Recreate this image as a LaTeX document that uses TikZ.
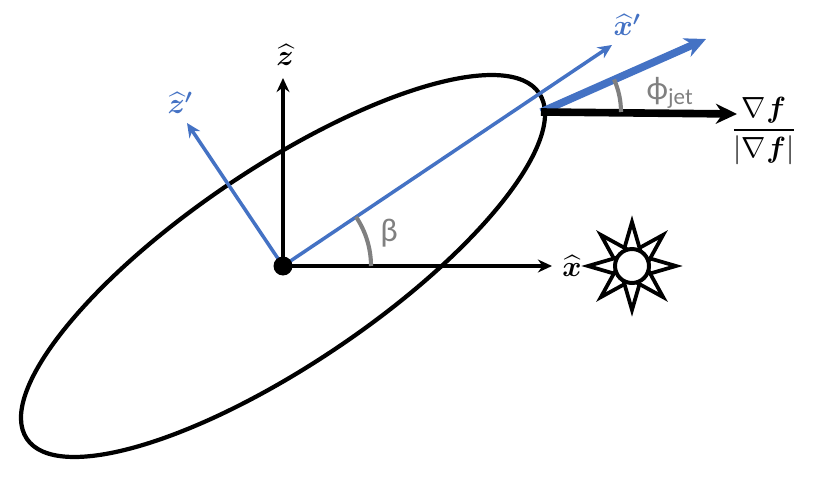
\documentclass[tikz,border=0pt]{standalone}
\usepackage{amsmath,bm}
\usepackage{fontspec}
\newfontfamily\carl{Carlito}
\usetikzlibrary{arrows.meta}
\definecolor{bl}{RGB}{68,114,196}
\definecolor{gr}{RGB}{128,128,128}
\tikzset{ax/.style={line width=3pt,-{Stealth[length=12pt,width=11pt]}},
lbl/.style={font=\fontsize{24}{26}\selectfont},
glbl/.style={text=gr,font=\carl\fontsize{28}{30}\selectfont},
sunray/.style={line width=3.2pt,line join=miter,fill=white}}
\begin{document}
\begin{tikzpicture}[x=0.03cm,y=-0.03cm]
\useasboundingbox (0,0) rectangle (830,479);
\coordinate (O) at (283,266);
\coordinate (T) at (541,112);
\draw[line width=3.6pt,rotate around={34:(O)}] (O) ellipse (309 and 98);
\draw[ax] (O) -- (283,78) coordinate (zt);
\node[lbl] (zl) at (285,55) {$\bm{\widehat z}$};
\draw[ax] (O) -- (552,266) coordinate (xt);
\node[lbl] (xl) at (572,266) {$\bm{\widehat x}$};
\draw[ax,bl] (O) -- (187,123) coordinate (zpt);
\node[lbl,text=bl] (zpl) at (180,103) {$\bm{\widehat z'}$};
\draw[ax,bl] (O) -- (612,45) coordinate (xpt);
\node[lbl,text=bl] (xpl) at (627,25) {$\bm{\widehat x'}$};
\draw[line width=6.5pt,bl,-{Stealth[length=18pt,width=17pt]}] (T) -- (706,39) coordinate (jt);
\draw[line width=6.5pt,-{Stealth[length=18pt,width=17pt]}] (T) -- (737,114) coordinate (gt);
\draw[gr,line width=3.5pt] (371,266) arc[start angle=0,end angle=-34,radius=88];
\draw[gr,line width=3.5pt] (621,112) arc[start angle=0,end angle=-24,radius=80];
\node[glbl] (bt) at (389,233) {β};
\node[glbl] (pt) at (670,93) {ϕ\textsubscript{jet}};
\node[lbl] (fr) at (764,131) {$\dfrac{\nabla \bm f}{|\nabla \bm f|}$};
\fill (O) circle (9.5);
\begin{scope}[shift={(632,266)}]
\foreach \a in {0,45,...,315}
  \draw[sunray,rotate=\a] (13,-9) -- (44,0) -- (13,9) -- cycle;
\draw[line width=3.4pt,fill=white] (0,0) circle (17);
\end{scope}
\end{tikzpicture}
\end{document}
